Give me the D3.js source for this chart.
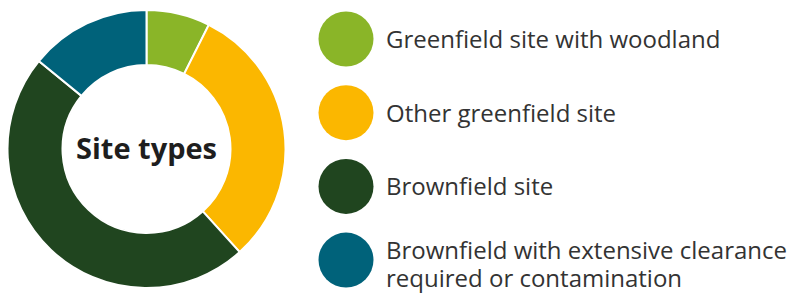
<!DOCTYPE html>
<html>
<head>
<meta charset="utf-8">
<script src="https://cdn.jsdelivr.net/npm/d3@7"></script>
<style>
  body { margin: 0; background: #fff; }
  svg { display: block; font-family: "Open Sans", "Noto Sans", sans-serif; }
</style>
</head>
<body>
<div id="chart"></div>
<script>
// Site type shares (%)
const categories = [
    "Greenfield site with woodland",
    "Other greenfield site",
    "Brownfield site",
    "Brownfield with extensive clearance required or contamination"
];
const values = [7.4, 30.9, 47.6, 14.1];
const colours = ["#8ab528", "#fbb700", "#20451f", "#00627a"];
const legendLines = [
    ["Greenfield site with woodland"],
    ["Other greenfield site"],
    ["Brownfield site"],
    ["Brownfield with extensive clearance", "required or contamination"]
];

const width = 789;
const height = 293;

const svg = d3.select("#chart")
    .append("svg")
    .attr("width", width)
    .attr("height", height);

// Donut
const cx = 146.5, cy = 149;
const outerR = 139, innerR = 84;

const pie = d3.pie().sort(null).value(d => d.value);
const arc = d3.arc().innerRadius(innerR).outerRadius(outerR);

const data = categories.map((c, i) => ({ name: c, value: values[i], colour: colours[i] }));

const g = svg.append("g")
    .attr("transform", `translate(${cx},${cy})`);

g.selectAll("path")
    .data(pie(data))
    .enter()
    .append("path")
    .attr("d", arc)
    .attr("fill", d => d.data.colour)
    .attr("stroke", "#fff")
    .attr("stroke-width", 2);

// Centre label
g.append("text")
    .attr("text-anchor", "middle")
    .attr("dy", "0.35em")
    .attr("font-size", 29)
    .attr("font-weight", 700)
    .attr("fill", "#1e1e1e")
    .text("Site types");

// Legend
const legendX = 346, legendY0 = 39, legendStep = 73.7;

const legend = svg.append("g");

const items = legend.selectAll("g")
    .data(data)
    .enter()
    .append("g")
    .attr("transform", (d, i) => `translate(${legendX},${legendY0 + i * legendStep})`);

items.append("circle")
    .attr("r", 27.5)
    .attr("fill", d => d.colour);

items.append("text")
    .attr("x", 40)
    .attr("font-size", 24)
    .attr("fill", "#333")
    .each(function(d, i) {
        const lines = legendLines[i];
        const t = d3.select(this);
        const startDy = lines.length > 1 ? -0.03 : 0.37;
        lines.forEach((line, j) => {
            t.append("tspan")
                .attr("x", 40)
                .attr("dy", j === 0 ? `${startDy}em` : "1.15em")
                .text(line);
        });
    });
</script>
</body>
</html>
